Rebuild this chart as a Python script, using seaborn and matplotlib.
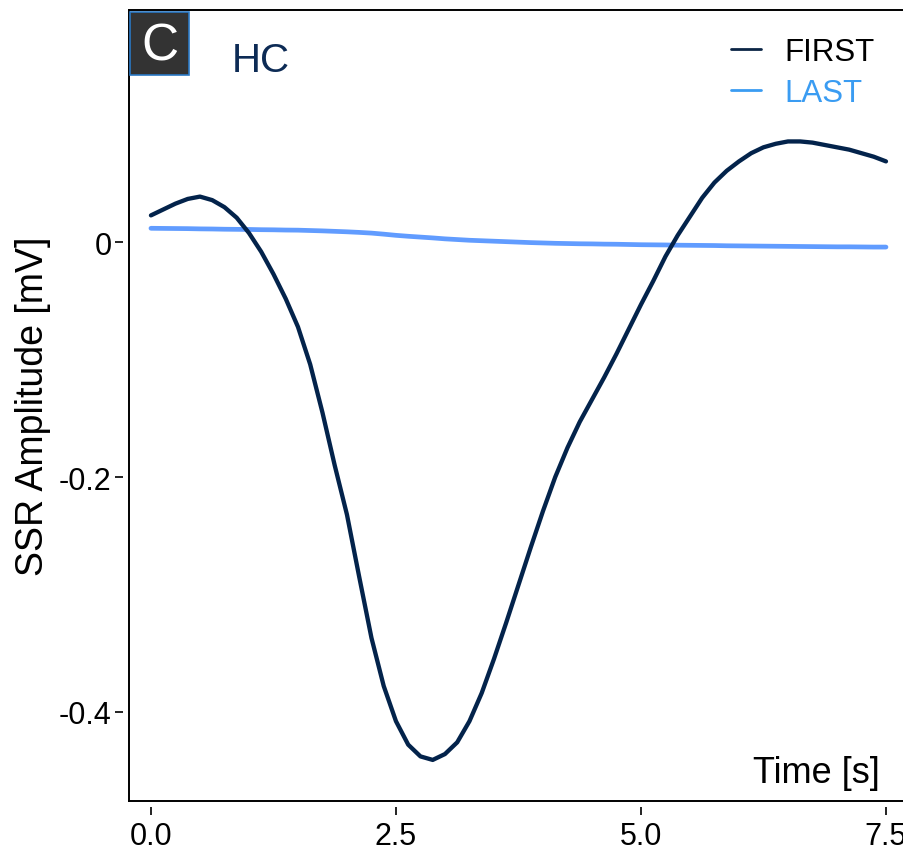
import numpy as np
import pandas as pd
import matplotlib
matplotlib.use("Agg")
import matplotlib.pyplot as plt
from matplotlib.patches import Rectangle
from matplotlib.lines import Line2D
import seaborn as sns

# Averaged skin sympathetic response, healthy controls (HC), sampled every 0.125 s
time_s = [0.0, 0.125, 0.25, 0.375, 0.5, 0.625, 0.75, 0.875, 1.0, 1.125, 1.25,
          1.375, 1.5, 1.625, 1.75, 1.875, 2.0, 2.125, 2.25, 2.375, 2.5, 2.625,
          2.75, 2.875, 3.0, 3.125, 3.25, 3.375, 3.5, 3.625, 3.75, 3.875, 4.0,
          4.125, 4.25, 4.375, 4.5, 4.625, 4.75, 4.875, 5.0, 5.125, 5.25, 5.375,
          5.5, 5.625, 5.75, 5.875, 6.0, 6.125, 6.25, 6.375, 6.5, 6.625, 6.75,
          6.875, 7.0, 7.125, 7.25, 7.375, 7.5]
first_mv = [0.023, 0.028, 0.033, 0.037, 0.039, 0.036, 0.030, 0.021, 0.008,
            -0.008, -0.027, -0.048, -0.072, -0.104, -0.145, -0.190, -0.232,
            -0.285, -0.337, -0.378, -0.408, -0.428, -0.438, -0.441, -0.436,
            -0.426, -0.408, -0.384, -0.355, -0.324, -0.292, -0.260, -0.229,
            -0.200, -0.175, -0.153, -0.134, -0.115, -0.095, -0.074, -0.053,
            -0.033, -0.012, 0.006, 0.022, 0.038, 0.051, 0.061, 0.069, 0.076,
            0.081, 0.084, 0.086, 0.086, 0.085, 0.083, 0.081, 0.079, 0.076,
            0.073, 0.069]
last_mv = [0.0120, 0.0119, 0.0118, 0.0117, 0.0115, 0.0114, 0.0112, 0.0111,
           0.0110, 0.0108, 0.0107, 0.0105, 0.0104, 0.0101, 0.0098, 0.0094,
           0.0090, 0.0085, 0.0079, 0.0070, 0.0060, 0.0052, 0.0045, 0.0038,
           0.0030, 0.0024, 0.0018, 0.0014, 0.0010, 0.0006, 0.0002, -0.0002,
           -0.0005, -0.0008, -0.0010, -0.0012, -0.0013, -0.0015, -0.0016,
           -0.0018, -0.0020, -0.0021, -0.0022, -0.0024, -0.0025, -0.0026,
           -0.0027, -0.0029, -0.0030, -0.0031, -0.0032, -0.0033, -0.0034,
           -0.0035, -0.0036, -0.0037, -0.0038, -0.0038, -0.0039, -0.0040,
           -0.0040]

series_names = ["FIRST", "LAST"]
line_colors = {"FIRST": "#03234b", "LAST": "#619cff"}
legend_colors = {"FIRST": "#0b2545", "LAST": "#3a9cf2"}
legend_text_colors = {"FIRST": "#000000", "LAST": "#3a9cf2"}

x_ticks = [0.0, 2.5, 5.0, 7.5]
x_tick_labels = ["0.0", "2.5", "5.0", "7.5"]
y_ticks = [-0.4, -0.2, 0.0]
y_tick_labels = ["-0.4", "-0.2", "0"]

df = pd.DataFrame({
    "Time": time_s * 2,
    "Amplitude": first_mv + last_mv,
    "Trial": ["FIRST"] * len(time_s) + ["LAST"] * len(time_s),
})

sns.set_theme(style="white")
plt.rcParams["font.family"] = ["Liberation Sans", "DejaVu Sans"]

W, H = 904, 854
fig = plt.figure(figsize=(W / 100, H / 100), dpi=100)
left_px, right_px, top_px, bottom_px = 129, 904, 11, 802
ax = fig.add_axes([left_px / W, 1 - bottom_px / H,
                   (right_px - left_px) / W, (bottom_px - top_px) / H])

sns.lineplot(data=df[df.Trial == "LAST"], x="Time", y="Amplitude",
             color=line_colors["LAST"], lw=3.4, ax=ax, legend=False,
             solid_capstyle="round")
sns.lineplot(data=df[df.Trial == "FIRST"], x="Time", y="Amplitude",
             color=line_colors["FIRST"], lw=3.1, ax=ax, legend=False,
             solid_capstyle="round", solid_joinstyle="round")

ax.set_xlim(-0.224, 7.684)
ax.set_ylim(-0.476, 0.198)
ax.set_xticks(x_ticks)
ax.set_xticklabels(x_tick_labels)
ax.set_yticks(y_ticks)
ax.set_yticklabels(y_tick_labels)
ax.set_xlabel("")
ax.set_ylabel("SSR Amplitude [mV]", fontsize=27, labelpad=6, color="#000000")

# detached axis lines: ticks sit a few pixels away from the panel frame
for side in ["left", "bottom"]:
    ax.spines[side].set_position(("outward", 4))
    ax.spines[side].set_visible(False)
for side in ["top", "right"]:
    ax.spines[side].set_visible(False)
ax.tick_params(axis="both", which="major", direction="out", length=5.5,
               width=1.4, color="#222222", labelsize=22, labelcolor="#000000",
               bottom=True, left=True)
ax.tick_params(axis="x", pad=5)
ax.tick_params(axis="y", pad=3)

# panel frame (top, left, bottom)
frame_kw = dict(transform=ax.transAxes, color="#000000", lw=1.4,
                clip_on=False, solid_capstyle="projecting")
ax.add_line(Line2D([0, 0], [0, 1], **frame_kw))
ax.add_line(Line2D([0, 1.01], [1, 1], **frame_kw))
ax.add_line(Line2D([0, 1.01], [0, 0], **frame_kw))

# panel tag
ax.add_patch(Rectangle((0.001, 0.918), 0.077, 0.080, transform=ax.transAxes,
                       facecolor="#333333", edgecolor="#2a78c4", lw=1.2,
                       clip_on=False, zorder=5))
ax.text(0.0395, 0.954, "C", transform=ax.transAxes, ha="center",
        va="center", fontsize=37, color="white", zorder=6)
ax.text(0.133, 0.937, "HC", transform=ax.transAxes, ha="left", va="center",
        fontsize=29, color="#0d2b55")
ax.text(0.969, 0.0354, "Time [s]", transform=ax.transAxes, ha="right",
        va="center", fontsize=26, color="#000000")

handles = [Line2D([], [], color=legend_colors[n], lw=2.0) for n in series_names]
leg = ax.legend(handles, series_names, loc="upper left",
                bbox_to_anchor=(0.777, 0.966), frameon=False, fontsize=22.5,
                handlelength=0.95, handletextpad=0.75, labelspacing=0.35,
                borderpad=0, borderaxespad=0)
for txt, n in zip(leg.get_texts(), series_names):
    txt.set_color(legend_text_colors[n])

fig.savefig("out.png", dpi=100)
